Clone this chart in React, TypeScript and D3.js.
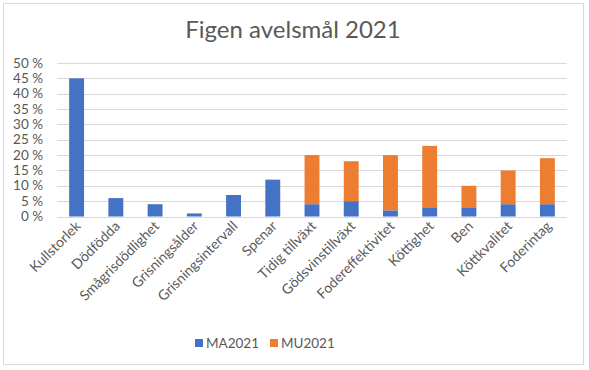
import React from "react";
import * as d3 from "d3";

const categories = [
  "Kullstorlek",
  "Dödfödda",
  "Smågrisdödlighet",
  "Grisningsålder",
  "Grisningsintervall",
  "Spenar",
  "Tidig tillväxt",
  "Gödsvinstillväxt",
  "Fodereffektivitet",
  "Köttighet",
  "Ben",
  "Köttkvalitet",
  "Foderintag",
];
const ma2021 = [45, 6, 4, 1, 7, 12, 4, 5, 2, 3, 3, 4, 4];
const mu2021 = [0, 0, 0, 0, 0, 0, 16, 13, 18, 20, 7, 11, 15];
const yTicks = [0, 5, 10, 15, 20, 25, 30, 35, 40, 45, 50];
const seriesNames = ["MA2021", "MU2021"];
const colors = ["#4472C4", "#ED7D31"];

const W = 589;
const H = 370;
const FONT = "Lato, 'Liberation Sans', sans-serif";

export default function App() {
  const x = d3.scaleBand().domain(categories).range([57, 567]).paddingInner(0.62).paddingOuter(0.31);
  const y = d3.scaleLinear().domain([0, 50]).range([216.5, 63]);

  const rows = categories.map((c, i) => ({ cat: c, MA2021: ma2021[i], MU2021: mu2021[i] }));
  const stacked = d3.stack<any>().keys(seriesNames)(rows);

  return (
    <svg
      width={W}
      height={H}
      style={{ position: "absolute", left: 0, top: 0, background: "#fff" }}
      fontFamily={FONT}
    >
      <rect x={3.5} y={3.5} width={580} height={361} fill="#fff" stroke="#d9d9d9" />
      <text x={293} y={38} textAnchor="middle" fontSize={24} fill="#595959">
        Figen avelsmål 2021
      </text>
      {yTicks.map((t) => (
        <g key={t}>
          <line x1={57} x2={567} y1={Math.round(y(t)) + 0.5} y2={Math.round(y(t)) + 0.5} stroke="#d9d9d9" />
          <text x={43} y={y(t) + 4.5} textAnchor="end" fontSize={13.5} fill="#595959">
            {t} %
          </text>
        </g>
      ))}
      {stacked.map((s, si) => (
        <g key={s.key} fill={colors[si]}>
          {s.map((d, i) =>
            d[1] - d[0] > 0 ? (
              <rect
                key={i}
                x={x(categories[i])!}
                width={x.bandwidth()}
                y={y(d[1])}
                height={y(d[0]) - y(d[1])}
              />
            ) : null
          )}
        </g>
      ))}
      {categories.map((c) => {
        const cx = x(c)! + x.bandwidth() / 2 + 5;
        return (
          <text
            key={c}
            transform={`translate(${cx},${227}) rotate(-45)`}
            textAnchor="end"
            fontSize={14}
            fill="#595959"
          >
            {c}
          </text>
        );
      })}
      {seriesNames.map((n, i) => (
        <g key={n} transform={`translate(${195 + i * 75},339)`}>
          <rect width={8} height={8} fill={colors[i]} />
          <text x={11} y={8.5} fontSize={13.5} fill="#595959">
            {n}
          </text>
        </g>
      ))}
    </svg>
  );
}
